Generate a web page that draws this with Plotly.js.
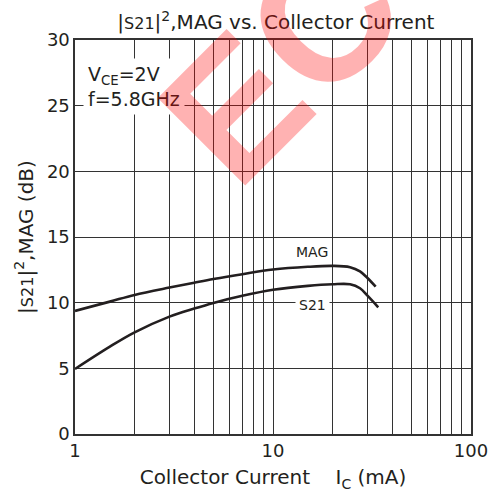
<!DOCTYPE html>
<html>
<head>
<meta charset="utf-8">
<script src="https://cdn.plot.ly/plotly-3.0.1.min.js"></script>
<style>html,body{margin:0;padding:0;background:#fff;}</style>
</head>
<body>
<div id="chart" style="width:498px;height:497px;"></div>
<script>
// Data
const magCurrent = [1, 1.5, 2, 3, 4, 5, 7, 10, 15, 20, 24.5, 27.5, 30, 33];
const magGain    = [9.37, 10.08, 10.59, 11.15, 11.52, 11.8, 12.17, 12.52, 12.73, 12.8, 12.7, 12.38, 11.88, 11.22];
const s21Current = [1, 1.5, 2, 3, 4, 5, 7, 10, 15, 20, 24.5, 27.5, 30, 34];
const s21Gain    = [4.95, 6.65, 7.74, 8.94, 9.55, 9.98, 10.52, 10.98, 11.28, 11.4, 11.4, 11.1, 10.53, 9.65];

const xTickVals = [1,2,3,4,5,6,7,8,9,10,20,30,40,50,60,70,80,90,100];
const xTickText = ['1','','','','','','','','','10','','','','','','','','','100'];
const yTickVals = [0,5,10,15,20,25,30];

const FONT = 'DejaVu Sans, Liberation Sans, Arial, sans-serif';
const INK = '#231f20';

const traces = [
  {x: magCurrent, y: magGain, mode: 'lines', line: {color: INK, width: 2.6, shape: 'spline', smoothing: 1}, hoverinfo: 'skip'},
  {x: s21Current, y: s21Gain, mode: 'lines', line: {color: INK, width: 2.6, shape: 'spline', smoothing: 1}, hoverinfo: 'skip'}
];

const layout = {
  width: 498, height: 497,
  margin: {l: 75, r: 27, t: 40, b: 63},
  paper_bgcolor: '#fff', plot_bgcolor: '#fff',
  showlegend: false,
  font: {family: FONT, color: INK},
  title: {
    text: '|<span style="font-size:16px">S21</span>|<sup>2</sup>,MAG vs. Collector Current',
    font: {family: FONT, size: 20, color: INK},
    x: 0.554, xanchor: 'center', y: 0.955, yanchor: 'middle', yref: 'container'
  },
  xaxis: {
    type: 'log', range: [0, 2],
    tickmode: 'array', tickvals: xTickVals, ticktext: xTickText,
    showgrid: true, gridcolor: '#333', gridwidth: 1,
    showline: true, linecolor: '#333', linewidth: 1.6, mirror: true,
    ticks: '', zeroline: false,
    tickfont: {family: FONT, size: 18, color: INK},
    title: {text: 'Collector Current\u00a0\u00a0\u00a0\u00a0I<sub>C</sub> (mA)', font: {family: FONT, size: 20, color: INK}, standoff: 10}
  },
  yaxis: {
    range: [0, 30],
    tickmode: 'array', tickvals: yTickVals,
    showgrid: true, gridcolor: '#333', gridwidth: 1,
    showline: true, linecolor: '#333', linewidth: 1.6, mirror: true,
    ticks: '', zeroline: false,
    tickfont: {family: FONT, size: 18, color: INK},
    title: {text: '|<span style="font-size:16px">S21</span>|<sup>2</sup>,MAG (dB)', font: {family: FONT, size: 20, color: INK}, standoff: 8}
  },
  annotations: [
    {xref: 'paper', yref: 'paper', x: 0.02, y: 0.883, xanchor: 'left', yanchor: 'middle', align: 'left',
     text: 'V<sub>CE</sub>=2V<br>f=5.8GHz', showarrow: false, bgcolor: '#fff', borderpad: 4,
     font: {family: FONT, size: 19, color: INK}},
    {xref: 'paper', yref: 'paper', x: 0.598, y: 0.462, xanchor: 'center', yanchor: 'middle',
     text: 'MAG', showarrow: false, font: {family: FONT, size: 14, color: INK}},
    {xref: 'paper', yref: 'paper', x: 0.600, y: 0.327, xanchor: 'center', yanchor: 'middle',
     text: 'S21', showarrow: false, bgcolor: '#fff', borderpad: 3,
     font: {family: FONT, size: 14, color: INK}},
    {xref: 'paper', yref: 'paper', x: 0.52, y: 0.945, xanchor: 'center', yanchor: 'middle',
     text: '<b>EC</b>', showarrow: false, textangle: -45,
     font: {family: 'Liberation Sans, Arial, sans-serif', size: 180, color: 'rgba(255,0,0,0.3)'}}
  ]
};

Plotly.newPlot('chart', traces, layout, {staticPlot: true, displayModeBar: false});
</script>
</body>
</html>
